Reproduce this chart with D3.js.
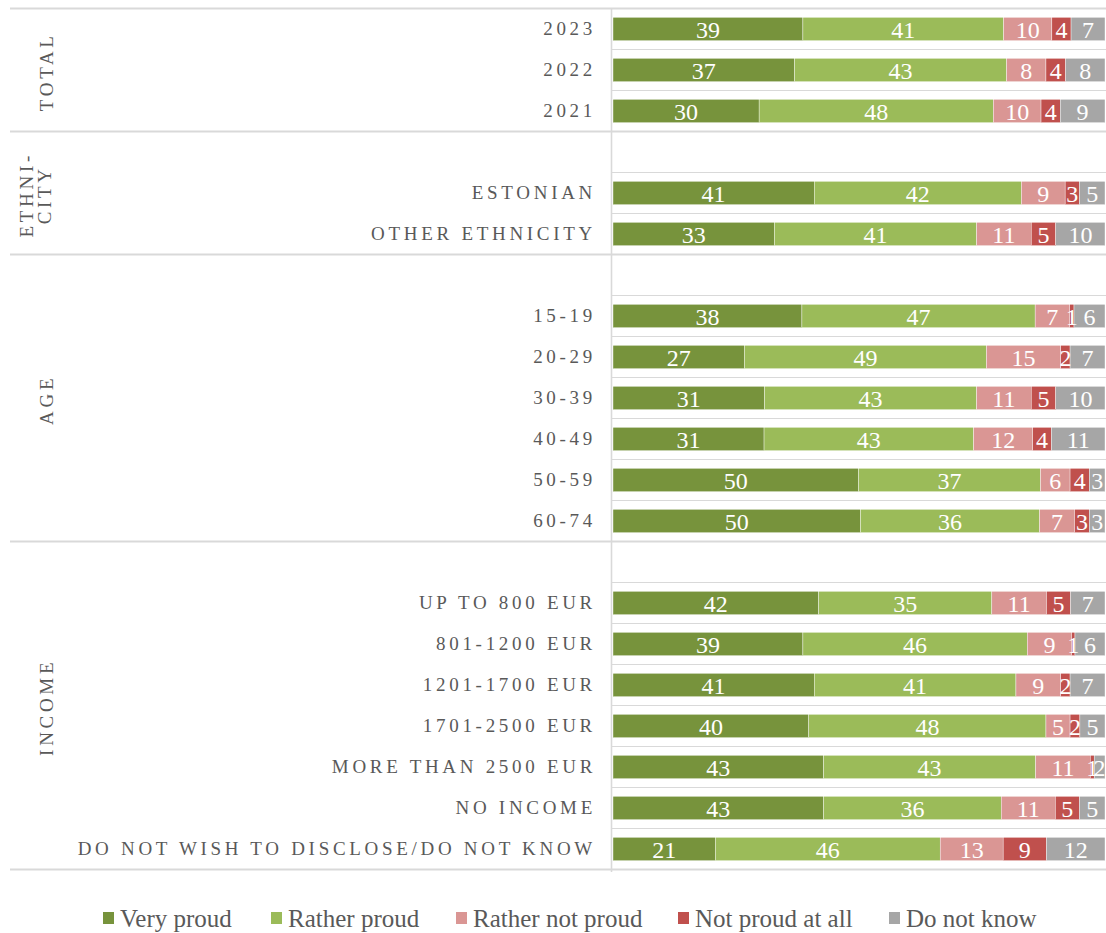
<!DOCTYPE html>
<html><head><meta charset="utf-8">
<script src="https://cdn.jsdelivr.net/npm/d3@7/dist/d3.min.js"></script>
<style>body{margin:0;background:#fff}svg{display:block}</style>
</head><body>
<script>
const categories = ["2023","2022","2021","","ESTONIAN","OTHER ETHNICITY","","15-19","20-29","30-39","40-49","50-59","60-74","","UP TO 800 EUR","801-1200 EUR","1201-1700 EUR","1701-2500 EUR","MORE THAN 2500 EUR","NO INCOME","DO NOT WISH TO DISCLOSE/DO NOT KNOW"];
const seriesNames = ["Very proud","Rather proud","Rather not proud","Not proud at all","Do not know"];
const seriesColors = ["#77933C","#9BBB59","#DA9694","#C0504D","#A6A6A6"];
const veryProud     = [38.6,36.9,29.7,null,40.9,32.8,null,38.4,26.7,30.8,30.7,49.9,50.3,null,41.8,38.6,40.9,39.8,42.8,42.8,20.8];
const ratherProud   = [40.8,43.1,47.6,null,42.1,41.1,null,47.4,49.2,43.1,42.6,37.0,36.4,null,35.2,45.6,41.0,48.2,43.1,36.1,45.7];
const ratherNot     = [9.8,8.0,9.7,null,8.9,11.1,null,7.0,15.1,11.1,12.0,6.0,7.1,null,11.1,9.0,9.1,4.9,11.1,11.0,12.8];
const notAtAll      = [3.9,4.0,3.9,null,2.9,5.0,null,0.9,1.9,5.0,3.8,3.9,3.0,null,4.9,0.7,1.9,2.0,0.8,4.9,8.8];
const doNotKnow     = [6.9,8.0,9.1,null,5.2,10.0,null,6.3,7.1,10.0,10.9,3.2,3.2,null,7.0,6.1,7.1,5.1,2.2,5.2,11.9];
const groupNames = [["TOTAL"],["ETHNI-","CITY"],["AGE"],["INCOME"]];
const groupSizes = [3,3,7,8];

const W = 1106, H = 933;
const svg = d3.select("body").append("svg").attr("width",W).attr("height",H);
const serif = "'Liberation Serif','Times New Roman',serif";
const txt = "#595959", grid = "#d9d9d9";

const y = d3.scaleBand().domain(d3.range(categories.length)).range([8.5, 869.5]).paddingInner(0.43).paddingOuter(0.215);
const x = d3.scaleLinear().domain([0,100]).range([613, 1105]);
const step = y.step();

// row gridlines in plot area
const gl = svg.append("g");
d3.range(categories.length+1).forEach(i=>{
  const yy = 8.5 + i*step;
  gl.append("line").attr("x1",611).attr("x2",W).attr("y1",yy).attr("y2",yy).attr("stroke",grid).attr("stroke-width",1.2);
});
// group separators
let cum = 0;
const seps = [0];
groupSizes.forEach(s=>{cum+=s; seps.push(cum);});
seps.forEach(i=>{
  const yy = 8.5 + i*step;
  gl.append("line").attr("x1",10).attr("x2",W).attr("y1",yy).attr("y2",yy).attr("stroke",grid).attr("stroke-width",1.8);
});
gl.append("line").attr("x1",611.5).attr("x2",611.5).attr("y1",8).attr("y2",872).attr("stroke",grid).attr("stroke-width",1.6);

// stacked data
const rows = categories.map((c,i)=>({cat:c, i, vals:[veryProud[i],ratherProud[i],ratherNot[i],notAtAll[i],doNotKnow[i]]}));
const barG = svg.append("g");
rows.forEach(r=>{
  if (r.vals[0]==null) return;
  let acc = 0;
  r.vals.forEach((v,k)=>{
    const x0 = x(acc), x1 = x(acc+v);
    barG.append("rect").attr("x",x0).attr("y",y(r.i)).attr("width",x1-x0).attr("height",y.bandwidth())
      .attr("fill",seriesColors[k]).attr("stroke","#fff").attr("stroke-width",0.4);
    acc += v;
  });
});
rows.forEach(r=>{
  if (r.vals[0]==null) return;
  let acc = 0;
  r.vals.forEach((v,k)=>{
    barG.append("text").attr("x",x(acc+v/2)).attr("y",y(r.i)+y.bandwidth()/2).attr("dy","0.38em")
      .attr("text-anchor","middle").attr("fill","#fff").style("font-family",serif).style("font-size","24px")
      .text(d3.format(".0f")(v));
    acc += v;
  });
});

// category labels
svg.append("g").selectAll("text").data(rows.filter(r=>r.cat!=="")).join("text")
  .attr("x",596).attr("y",d=>y(d.i)+y.bandwidth()/2).attr("dy","0.34em")
  .attr("text-anchor","end").attr("fill",txt).style("font-family",serif).style("font-size","19px")
  .style("letter-spacing","3.7px").text(d=>d.cat);

// group labels
let start = 0;
groupNames.forEach((lines,g)=>{
  const y0 = 8.5 + start*step, y1 = 8.5 + (start+groupSizes[g])*step;
  const cy = (y0+y1)/2;
  start += groupSizes[g];
  const xs = lines.length===1 ? [47] : [27,45];
  lines.forEach((t,li)=>{
    svg.append("text").attr("transform",`translate(${xs[li]},${cy+1.8}) rotate(-90)`)
      .attr("dy","0.34em").attr("text-anchor","middle").attr("fill",txt)
      .style("font-family",serif).style("font-size","19px").style("letter-spacing","3.7px").text(t);
  });
});

// legend
const legX = [103,271,456,678,889];
const lg = svg.append("g");
seriesNames.forEach((n,k)=>{
  lg.append("rect").attr("x",legX[k]).attr("y",912).attr("width",11).attr("height",12).attr("fill",seriesColors[k]);
  lg.append("text").attr("x",legX[k]+17).attr("y",927).attr("fill",txt)
    .style("font-family",serif).style("font-size","25px").text(n);
});
</script>
</body></html>
